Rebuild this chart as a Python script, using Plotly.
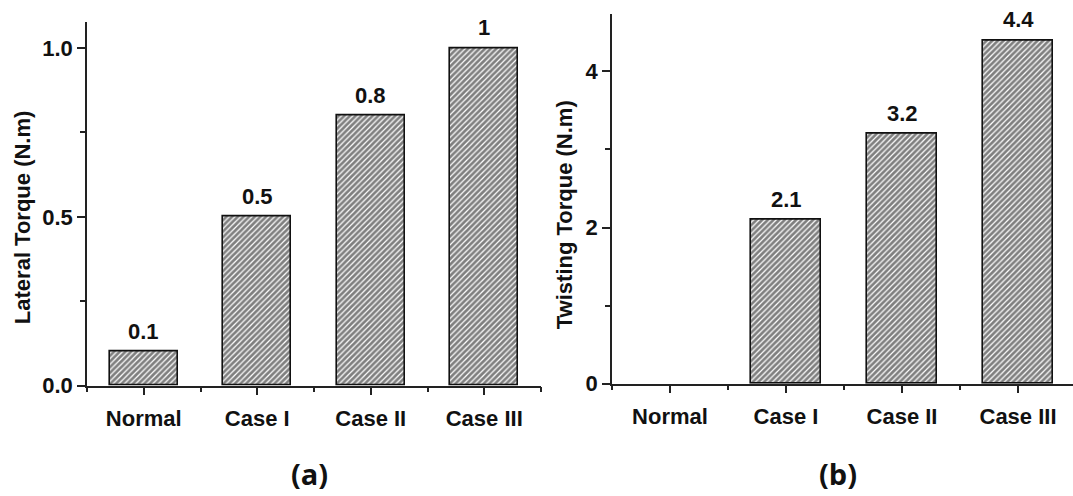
import plotly.graph_objects as go

# Bar categories and measured torques for the two panels
categories = ["Normal", "Case I", "Case II", "Case III"]
lateral_torque = [0.1, 0.5, 0.8, 1.0]
twisting_torque = [0.0, 2.1, 3.2, 4.4]

lateral_ticks = [0.0, 0.5, 1.0]
twisting_ticks = [0, 2, 4]

W, H = 1073, 496
FONT = "Arial, 'Liberation Sans', sans-serif"
FS = 22
INK = "#111111"

xpos = list(range(len(categories)))

fig = go.Figure()

hatch = dict(shape="/", fgcolor="#000000", bgcolor="white", size=4, solidity=0.7)

for vals, xa, ya in [(lateral_torque, "x", "y"), (twisting_torque, "x2", "y2")]:
    fig.add_trace(go.Bar(
        x=xpos, y=vals, width=0.6, xaxis=xa, yaxis=ya,
        marker=dict(color="white", pattern=hatch,
                    line=dict(color="#111111",
                              width=[1.6 if v else 0 for v in vals])),
        showlegend=False, hoverinfo="skip",
    ))
    # value labels above the bars (zero-height bars are left unlabelled)
    for xi, v in zip(xpos, vals):
        if v:
            fig.add_annotation(
                x=xi, y=v, xref=xa, yref=ya, text=f"<b>{v:g}</b>",
                showarrow=False, yanchor="bottom", yshift=6,
                font=dict(family=FONT, size=FS, color=INK),
            )

def px_x(p):
    return p / W

def px_y(p):
    return 1 - p / H

xaxis_common = dict(
    tickmode="array", tickvals=xpos, ticktext=[f"<b>{c}</b>" for c in categories],
    ticks="outside", ticklen=8, tickwidth=1.5, tickcolor="#222222",
    ticklabelstandoff=4,
    showline=True, linecolor="#222222", linewidth=1.6,
    showgrid=False, zeroline=False,
    tickfont=dict(family=FONT, size=FS, color=INK),
    minor=dict(tickmode="linear", tick0=0.5, dtick=1, ticks="outside",
               ticklen=5, tickwidth=1.5, tickcolor="#222222", showgrid=False),
)
yaxis_common = dict(
    ticks="outside", ticklen=8, tickwidth=1.5, tickcolor="#222222",
    showline=True, linecolor="#222222", linewidth=1.6,
    showgrid=False, zeroline=False,
    tickfont=dict(family=FONT, size=FS, color=INK),
)

fig.update_layout(
    width=W, height=H,
    margin=dict(l=0, r=0, t=0, b=0),
    plot_bgcolor="white", paper_bgcolor="white",
    bargap=0,
    xaxis=dict(xaxis_common, domain=[px_x(87), px_x(541)], range=[-0.5, 3.5], anchor="y"),
    yaxis=dict(yaxis_common, domain=[px_y(396), px_y(23)], range=[0, 1.076],
               tickmode="array", tickvals=lateral_ticks,
               ticktext=[f"<b>{t:.1f}</b>" for t in lateral_ticks],
               minor=dict(tickmode="linear", tick0=0, dtick=0.25, ticks="outside",
                          ticklen=5, tickwidth=1.5, tickcolor="#222222", showgrid=False),
               anchor="x"),
    xaxis2=dict(xaxis_common, domain=[px_x(612), 1.0], range=[-0.5, 3.474], anchor="y2"),
    yaxis2=dict(yaxis_common, domain=[px_y(394), px_y(14)], range=[0, 4.74],
                tickmode="array", tickvals=twisting_ticks,
                ticktext=[f"<b>{t}</b>" for t in twisting_ticks],
                minor=dict(tickmode="linear", tick0=0, dtick=1, ticks="outside",
                           ticklen=5, tickwidth=1.5, tickcolor="#222222", showgrid=False),
                anchor="x2"),
)

# axis titles and panel letters
for text, x, y in [("Lateral Torque (N.m)", 22, 223), ("Twisting Torque (N.m)", 564, 221)]:
    fig.add_annotation(
        x=px_x(x), y=px_y(y), xref="paper", yref="paper", text=f"<b>{text}</b>",
        textangle=-90, showarrow=False, xanchor="center", yanchor="middle",
        font=dict(family=FONT, size=FS, color=INK),
    )
for text, x in [("(a)", 309), ("(b)", 838)]:
    fig.add_annotation(
        x=px_x(x), y=px_y(486), xref="paper", yref="paper", text=text,
        showarrow=False, xanchor="center", yanchor="middle",
        font=dict(family="Open Sans", size=29, color=INK, weight=700),
    )

fig.write_html("out.html")
